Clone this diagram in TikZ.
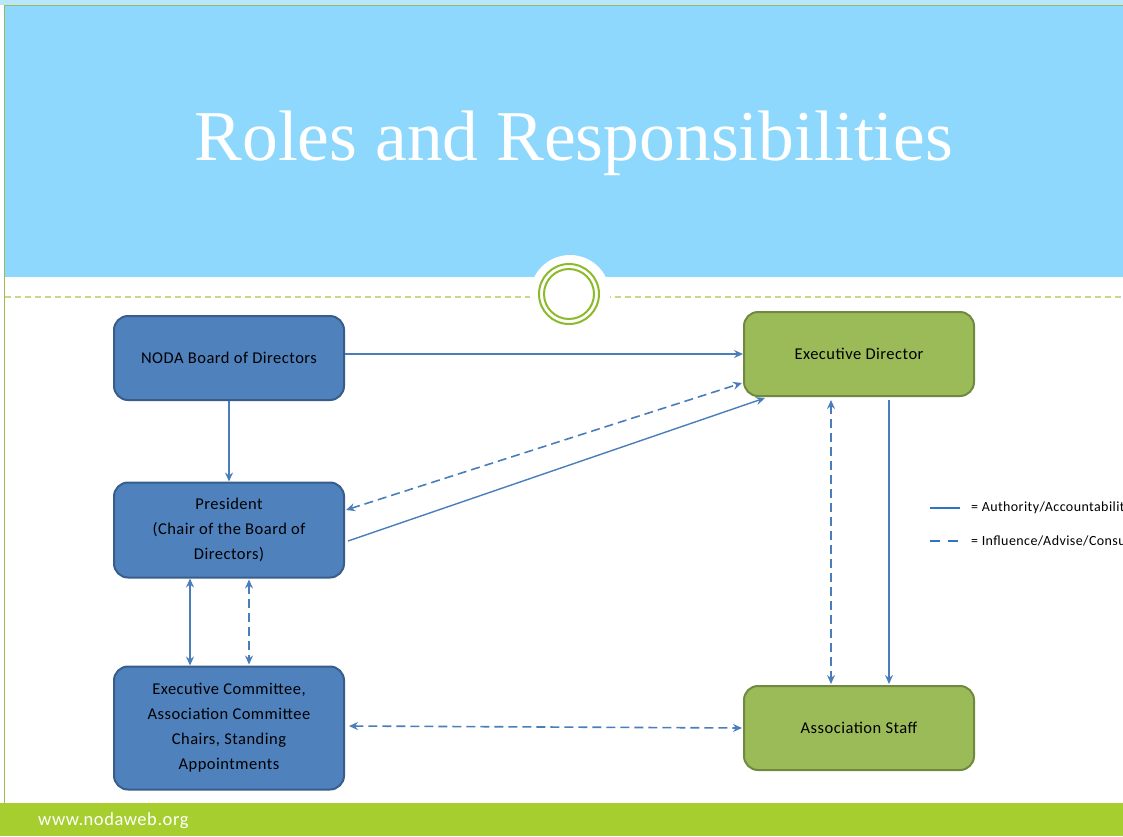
\documentclass[tikz,border=0pt]{standalone}
\usepackage{fontspec}
\setmainfont{Carlito}
\newfontfamily\titlefont{Liberation Serif}
\newfontfamily\spacedfont[LetterSpace=3]{Carlito}
\usetikzlibrary{arrows.meta}
\definecolor{hdrblue}{HTML}{8DD8FC}
\definecolor{topblue}{HTML}{B8E6FB}
\definecolor{boxblue}{HTML}{4F81BD}
\definecolor{boxblueline}{HTML}{385D8A}
\definecolor{boxgreen}{HTML}{9BBB59}
\definecolor{boxgreenline}{HTML}{71893F}
\definecolor{arrblue}{HTML}{4A7EBB}
\definecolor{ringgreen}{HTML}{8DBA2A}
\definecolor{dashgreen}{HTML}{C5D98A}
\definecolor{footgreen}{HTML}{A6CE2E}
\definecolor{edgegreen}{HTML}{9BBB59}
\definecolor{legblue}{HTML}{2E75C6}
\tikzset{
  x=1pt,y=-1pt,
  mytip/.tip={Stealth[length=9pt,width=8pt,inset=3pt]},
  bluebox/.style={draw=boxblueline,fill=boxblue,line width=2pt,rounded corners=14pt,minimum width=230pt,align=center,font=\spacedfont\fontsize{16.5}{25}\selectfont},
  greenbox/.style={draw=boxgreenline,fill=boxgreen,line width=2pt,rounded corners=14pt,minimum width=230pt,minimum height=84pt,align=center,font=\spacedfont\fontsize{16.5}{25}\selectfont},
  conn/.style={draw=arrblue,line width=1.6pt},
  dconn/.style={conn,dash pattern=on 9pt off 5pt},
  legtext/.style={anchor=west,inner sep=0pt,font=\spacedfont\fontsize{14}{16}\selectfont}
}
\begin{document}
\begin{tikzpicture}
\useasboundingbox (0,0) rectangle (1123,836);
\clip (0,0) rectangle (1123,836);
% background
\fill[white] (0,0) rectangle (1123,836);
\fill[topblue] (0,0) rectangle (1123,5);
\fill[hdrblue] (4,5) rectangle (1123,277);
\draw[edgegreen,line width=1pt] (4,5) -- (1123,5);
\draw[edgegreen,line width=1pt] (4,5) -- (4,803);
\fill[footgreen] (0,803) rectangle (1123,836);
\node[anchor=west,text=white,inner sep=0pt,font=\spacedfont\fontsize{18.5}{20}\selectfont] (url) at (38,821) {www.nodaweb.org};
% title
\node[text=white,inner sep=0pt,anchor=base,font=\titlefont\fontsize{71.5}{75}\selectfont] (title) at (574,160) {Roles and Responsibilities};
% divider
\draw[dashgreen,line width=1.5pt,dash pattern=on 6pt off 4pt] (5,297) -- (1123,297);
\fill[white] (570,295) circle (40);
\draw[ringgreen,line width=2pt] (569,294) circle (30);
\draw[ringgreen,line width=2pt] (569,294) circle (25);
% nodes
\node[bluebox,minimum height=84pt] (board) at (229,358) {NODA Board of Directors};
\node[bluebox,minimum height=95pt] (pres) at (229,530) {President\\(Chair of the Board of\\Directors)};
\node[bluebox,minimum height=123pt] (exec) at (229,728) {Executive Committee,\\Association Committee\\Chairs, Standing\\Appointments};
\node[greenbox] (ed) at (859,354) {Executive Director};
\node[greenbox] (staff) at (859,728) {Association Staff};
% coordinates
\coordinate (p1) at (346,510);
\coordinate (p2) at (348,541);
\coordinate (e1) at (742,383);
\coordinate (e2) at (765,398);
% connectors
\draw[conn,-{mytip}] (board.east |- 0,354) -- (ed.west |- 0,354);
\draw[conn,-{mytip}] (board.south) -- (pres.north);
\draw[dconn,{mytip}-{mytip}] (p1) -- (e1);
\draw[conn,line width=1.4pt,-{mytip}] (p2) -- (e2);
\draw[conn,{mytip}-{mytip}] (pres.south -| 190,0) -- (exec.north -| 190,0);
\draw[dconn,{mytip}-{mytip}] ([yshift=-1pt]pres.south -| 249,0) -- ([yshift=1pt]exec.north -| 249,0);
\draw[dconn,{mytip}-{mytip}] ([xshift=4pt]exec.east |- 0,726) -- ([xshift=-1pt]staff.west |- 0,728);
\draw[dconn,{mytip}-{mytip}] ([yshift=-3pt]ed.south -| 831,0) -- ([yshift=1pt]staff.north -| 831,0);
\draw[conn,-{mytip}] ([yshift=-3pt]ed.south -| 889,0) -- ([yshift=1pt]staff.north -| 889,0);
% legend
\coordinate (l1a) at (930,508); \coordinate (l1b) at (960,508);
\coordinate (l2a) at (930,541); \coordinate (l2b) at (960,541);
\draw[line width=1.8pt,draw=legblue] (l1a) -- (l1b);
\draw[line width=1.8pt,draw=legblue,dash pattern=on 10pt off 8pt] (l2a) -- (l2b);
\node[legtext] (leg1) at (971,508) {= Authority/Accountability};
\node[legtext] (leg2) at (971,541) {= Influence/Advise/Consult};
\end{tikzpicture}
\end{document}
